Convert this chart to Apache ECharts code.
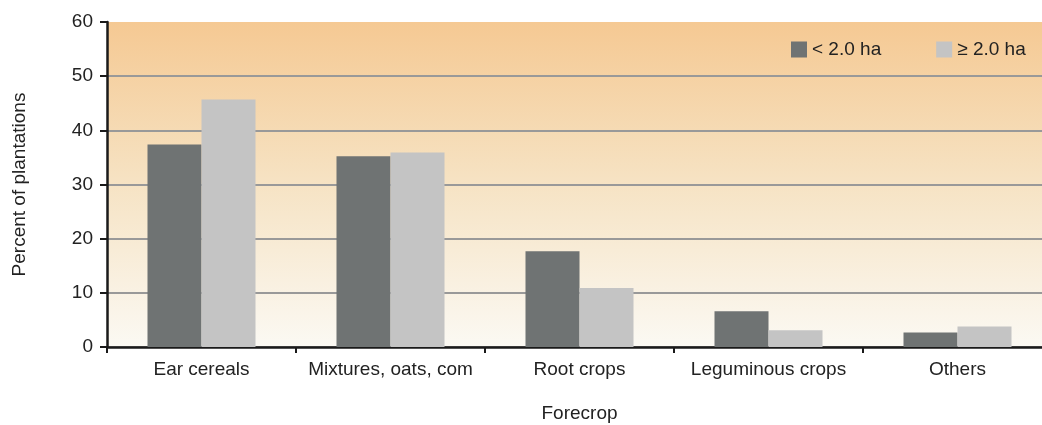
<!DOCTYPE html>
<html>
<head>
<meta charset="utf-8">
<script src="https://cdn.jsdelivr.net/npm/echarts@6/dist/echarts.min.js"></script>
<style>
  html, body { margin: 0; padding: 0; background: #ffffff; overflow: hidden; }
  #chart { width: 1052px; height: 425px; }
</style>
</head>
<body>
<div id="chart"></div>
<script>
// Forecrop share of plantations by farm size
const categories = ['Ear cereals', 'Mixtures, oats, com', 'Root crops', 'Leguminous crops', 'Others'];
const smallFarms = [37.4, 35.2, 17.7, 6.6, 2.7];   // < 2.0 ha
const largeFarms = [45.7, 35.9, 10.9, 3.1, 3.8];   // ≥ 2.0 ha
const yTicks = { min: 0, max: 60, interval: 10 };

const FONT = 'Liberation Sans, Arial, sans-serif';
const TEXT = '#222222';
const chart = echarts.init(document.getElementById('chart'), null, { renderer: 'canvas' });

chart.setOption({
  animation: false,
  textStyle: { fontFamily: FONT },
  grid: {
    left: 107, right: 0, top: 22, bottom: 78,
    containLabel: false,
    outerBoundsMode: 'none',
    show: true,
    borderWidth: 0,
    backgroundColor: new echarts.graphic.LinearGradient(0, 0, 0, 1, [
      { offset: 0, color: '#f5c993' },
      { offset: 0.5, color: '#f6e3c4' },
      { offset: 1, color: '#fbf9f3' }
    ])
  },
  legend: {
    top: 40, left: 791,
    padding: 0,
    itemWidth: 16, itemHeight: 16, itemGap: 55,
    icon: 'rect',
    textStyle: { fontSize: 19, color: TEXT, fontFamily: FONT },
    data: ['< 2.0 ha', '≥ 2.0 ha']
  },
  xAxis: {
    type: 'category',
    data: categories,
    name: 'Forecrop',
    nameLocation: 'middle',
    nameGap: 57,
    nameTextStyle: { fontSize: 19, color: TEXT, fontFamily: FONT },
    axisLine: { lineStyle: { color: '#1a1a1a', width: 2.5 } },
    axisTick: { show: true, length: 6, lineStyle: { color: '#1a1a1a', width: 2 } },
    axisLabel: { interval: 0, fontSize: 19, color: TEXT, margin: 13, fontFamily: FONT }
  },
  yAxis: {
    type: 'value',
    min: yTicks.min, max: yTicks.max, interval: yTicks.interval,
    name: 'Percent of plantations',
    nameLocation: 'middle',
    nameGap: 78,
    nameRotate: 90,
    nameTextStyle: { fontSize: 19, color: TEXT, fontFamily: FONT },
    axisLine: { show: true, lineStyle: { color: '#1a1a1a', width: 2.5 } },
    axisTick: { show: true, length: 7, lineStyle: { color: '#1a1a1a', width: 2 } },
    axisLabel: { fontSize: 19, color: TEXT, margin: 14, fontFamily: FONT },
    splitLine: {
      show: true,
      lineStyle: { color: '#999999', width: 2 },
      showMaxLine: false
    }
  },
  series: [
    {
      name: '< 2.0 ha',
      type: 'bar',
      data: smallFarms,
      barWidth: 54,
      barGap: '0%',
      itemStyle: { color: '#6f7373' }
    },
    {
      name: '≥ 2.0 ha',
      type: 'bar',
      data: largeFarms,
      barWidth: 54,
      barGap: '0%',
      itemStyle: { color: '#c4c4c4' }
    }
  ]
});
</script>
</body>
</html>
